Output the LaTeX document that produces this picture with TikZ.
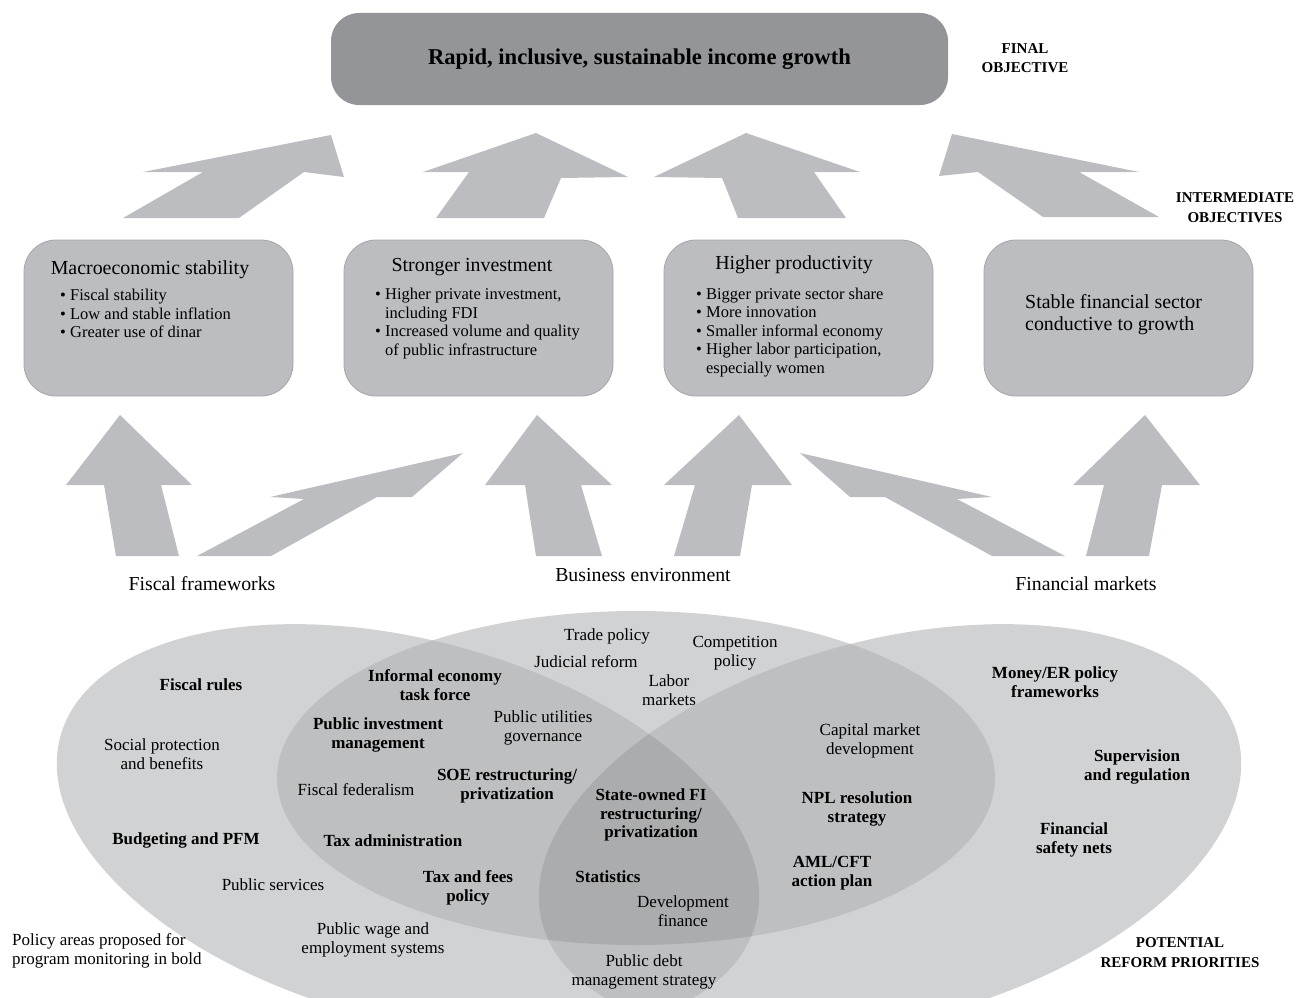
\documentclass[tikz,border=0pt]{standalone}
\usepackage{fontspec}
\setmainfont{Liberation Serif}
\usetikzlibrary{positioning}

\definecolor{goalgray}{HTML}{939598}
\definecolor{arrowgray}{HTML}{BCBDC0}
\definecolor{boxline}{HTML}{A5A6A8}
\definecolor{vennone}{HTML}{D1D2D4}
\definecolor{venntwo}{HTML}{BEBFC1}
\definecolor{vennthree}{HTML}{ABACAE}

\newcommand{\pxfont}[2]{\fontsize{#1}{#2}\selectfont}
\newcommand{\bul}{\textbullet\ }
\newcommand{\bulgap}{\hphantom{\textbullet\ }}

\tikzstyle{goal} = [fill=goalgray, rounded corners=28pt, minimum width=617pt, minimum height=92pt, font=\pxfont{22.6}{26}\bfseries]
\tikzstyle{objective} = [draw=boxline, line width=0.8pt, fill=arrowgray, rounded corners=32pt, minimum width=269pt, minimum height=156pt]
\tikzstyle{objtitle} = [font=\pxfont{19.9}{22}, inner sep=0pt]
\tikzstyle{bullets} = [font=\pxfont{16.5}{18.5}, align=left, inner sep=0pt, anchor=west]
\tikzstyle{pillar} = [font=\pxfont{19.8}{22}, inner sep=0pt]
\tikzstyle{blockarrow} = [fill=arrowgray]
\tikzstyle{area} = [font=\pxfont{17}{18.7}, align=center, inner sep=0pt]
\tikzstyle{keyarea} = [area, font=\pxfont{17}{18.7}\bfseries]
\tikzstyle{tag} = [font=\pxfont{15}{19.5}\bfseries, align=center, inner sep=0pt]
\tikzstyle{fiscaltilt} = [rotate around={-15:(408,830)}]
\tikzstyle{financetilt} = [rotate around={15:(890,830)}]

\newcommand{\fiscalshape}{(408,830) ellipse [x radius=360pt, y radius=190pt]}
\newcommand{\businessshape}{(636,778) ellipse [x radius=359pt, y radius=167pt]}
\newcommand{\financeshape}{(890,830) ellipse [x radius=360pt, y radius=190pt]}

\begin{document}
\begin{tikzpicture}[x=1pt, y=-1pt]
\useasboundingbox (0,0) rectangle (1298,998);

% reform areas
\fill[vennone, fiscaltilt] \fiscalshape;
\fill[vennone] \businessshape;
\fill[vennone, financetilt] \financeshape;
\begin{scope}
  \clip[fiscaltilt] \fiscalshape;
  \fill[venntwo] \businessshape;
  \fill[venntwo, financetilt] \financeshape;
\end{scope}
\begin{scope}
  \clip \businessshape;
  \fill[venntwo, financetilt] \financeshape;
\end{scope}
\begin{scope}
  \clip[fiscaltilt] \fiscalshape;
  \clip \businessshape;
  \fill[vennthree, financetilt] \financeshape;
\end{scope}

% objectives
\node[goal] (goal) at (639.5,59) {Rapid, inclusive, sustainable income growth};
\node[tag] (finaltag) at (1025,58) {FINAL\\OBJECTIVE};
\node[tag] (midtag) at (1235,207.5) {INTERMEDIATE\\OBJECTIVES};

\node[objective] (macro) at (158.5,318) {};
\node[objective] (invest) at (478.5,318) {};
\node[objective] (product) at (798.5,318) {};
\node[objective] (finsector) at (1118.5,318) {};

\node[objtitle] (macrotitle) at (150,270) {Macroeconomic stability};
\node[bullets] (macrolist) at (60,313.5) {\bul Fiscal stability\\ \bul Low and stable inflation\\ \bul Greater use of dinar};
\node[objtitle] (investtitle) at (472,267) {Stronger investment};
\node[bullets] (investlist) at (375,323.5) {\bul Higher private investment,\\ \bulgap including FDI\\ \bul Increased volume and quality\\ \bulgap of public infrastructure};
\node[objtitle] (producttitle) at (794,265) {Higher productivity};
\node[bullets] (productlist) at (696,332.5) {\bul Bigger private sector share\\ \bul More innovation\\ \bul Smaller informal economy\\ \bul Higher labor participation,\\ \bulgap especially women};
\node[objtitle, align=left, anchor=west] (fintitle) at (1025,315) {Stable financial sector\\conductive to growth};

% arrows up to the final objective
\fill[blockarrow] (123,218) -- (203,172) -- (143,172) -- (331,135) -- (344,177) -- (304,172) -- (239,218) -- cycle;
\fill[blockarrow] (436,218) -- (469,172) -- (423,172) -- (536,133) -- (628,177) -- (561,178) -- (544,218) -- cycle;
\fill[blockarrow] (738,218) -- (722,178) -- (654,177) -- (746,133) -- (860,172) -- (814,172) -- (846,218) -- cycle;
\fill[blockarrow] (1043,217) -- (978,172) -- (939,176) -- (952,134) -- (1139,172) -- (1079,172) -- (1159,217) -- cycle;

% arrows up from the reform areas
\fill[blockarrow] (116,556) -- (104,485) -- (66,485) -- (120,415) -- (192,485) -- (161,485) -- (179,556) -- cycle;
\fill[blockarrow] (197,556) -- (304,499) -- (270,497) -- (463,453) -- (412,497) -- (377,497) -- (271,556) -- cycle;
\fill[blockarrow] (536,556) -- (525,485) -- (485,485) -- (537,415) -- (612,485) -- (581,485) -- (602,556) -- cycle;
\fill[blockarrow] (674,556) -- (695,485) -- (664,485) -- (739,415) -- (792,485) -- (752,485) -- (740,556) -- cycle;
\fill[blockarrow] (992,556) -- (885,497) -- (850,497) -- (800,453) -- (992,497) -- (957,499) -- (1065,556) -- cycle;
\fill[blockarrow] (1086,556) -- (1104,485) -- (1073,485) -- (1145,415) -- (1200,485) -- (1162,485) -- (1149,556) -- cycle;

\node[pillar] (fiscalfw) at (202,584) {Fiscal frameworks};
\node[pillar] (businessenv) at (643,575) {Business environment};
\node[pillar] (finmarkets) at (1086,584) {Financial markets};

% fiscal areas
\node[keyarea] (rules) at (201,685) {Fiscal rules};
\node[area] (social) at (162,754) {Social protection\\and benefits};
\node[keyarea] (budget) at (186,840) {Budgeting and PFM};
\node[area] (services) at (273,885) {Public services};
\node[area] (wages) at (373,940) {Public wage and\\employment systems};
\node[area, align=left, anchor=west] (legend) at (12,951) {Policy areas proposed for\\program monitoring in bold};

% fiscal and business areas
\node[keyarea] (informal) at (435,685) {Informal economy\\task force};
\node[keyarea] (pim) at (378,735) {Public investment\\management};
\node[area] (utilities) at (543,728) {Public utilities\\governance};
\node[area] (federal) at (356,790) {Fiscal federalism};
\node[keyarea] (soe) at (507,786) {SOE restructuring/\\privatization};
\node[keyarea] (taxadmin) at (393,841) {Tax administration};
\node[keyarea] (taxfees) at (468,888) {Tax and fees\\policy};

% business areas
\node[area] (trade) at (607,636) {Trade policy};
\node[area] (judicial) at (586,662) {Judicial reform};
\node[area] (competition) at (735,653) {Competition\\policy};
\node[area] (labor) at (669,690) {Labor\\markets};

% shared areas
\node[keyarea] (statefi) at (651,815) {State-owned FI\\restructuring/\\privatization};
\node[keyarea] (stats) at (608,877) {Statistics};
\node[area] (devfin) at (683,911) {Development\\finance};
\node[area] (debt) at (644,972) {Public debt\\management strategy};

% business and financial areas
\node[area] (capital) at (870,741) {Capital market\\development};
\node[keyarea] (npl) at (857,809) {NPL resolution\\strategy};
\node[keyarea] (aml) at (832,873) {AML/CFT\\action plan};

% financial areas
\node[keyarea] (money) at (1055,682) {Money/ER policy\\frameworks};
\node[keyarea] (supervision) at (1137,767) {Supervision\\and regulation};
\node[keyarea] (safety) at (1074,840) {Financial\\safety nets};
\node[tag] (reformtag) at (1180,952.5) {POTENTIAL\\REFORM PRIORITIES};

\end{tikzpicture}
\end{document}
